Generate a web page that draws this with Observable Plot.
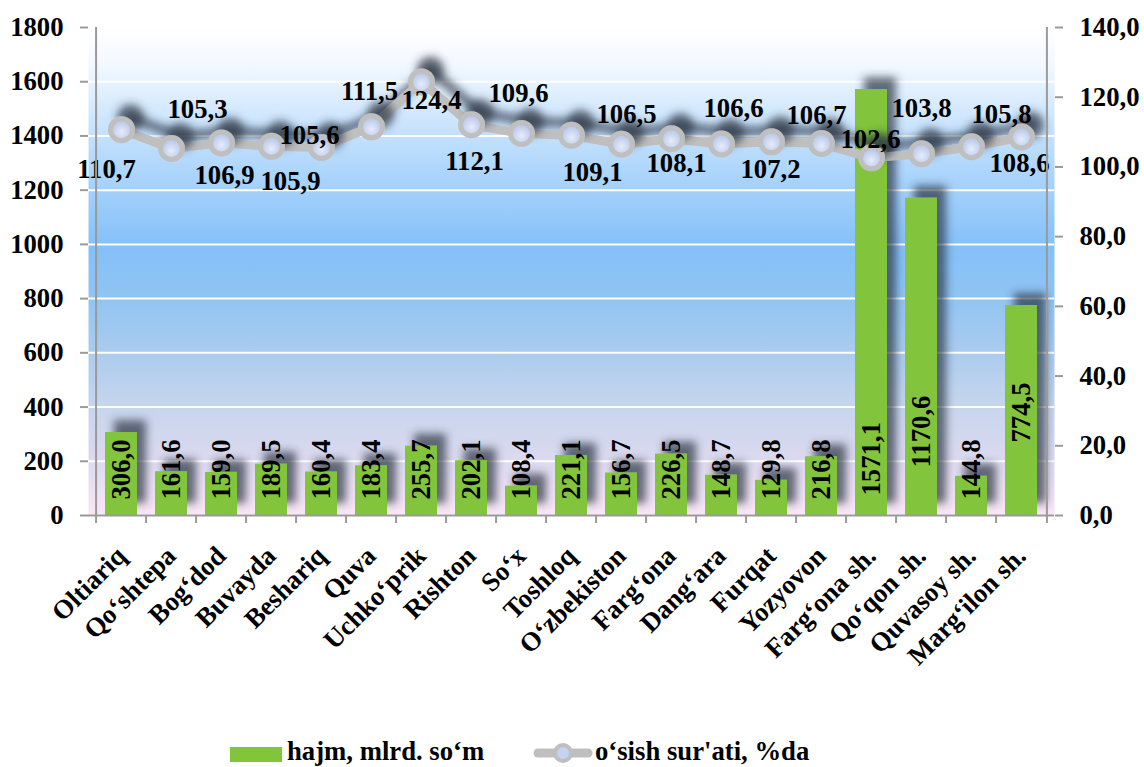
<!DOCTYPE html>
<html>
<head>
<meta charset="utf-8">
<script src="https://cdn.jsdelivr.net/npm/d3@7"></script>
<script src="https://cdn.jsdelivr.net/npm/@observablehq/plot@0.6"></script>
<style>
  html, body { margin: 0; padding: 0; background: #ffffff; }
  #wrap { position: relative; width: 1144px; height: 767px; overflow: hidden; }
  #legend { position: absolute; left: 0; top: 725px; }
</style>
</head>
<body>
<div id="wrap"><div id="chart"></div><div id="legend"></div></div>
<script>
// ---- data ----
const categories = ["Oltiariq","Qo\u2018shtepa","Bog\u2018dod","Buvayda","Beshariq","Quva","Uchko\u2018prik","Rishton","So\u2018x","Toshloq","O\u2018zbekiston","Farg\u2018ona","Dang\u2018ara","Furqat","Yozyovon","Farg\u2018ona sh.","Qo\u2018qon sh.","Quvasoy sh.","Marg\u2018ilon sh."];
const volume = [306.0,161.6,159.0,189.5,160.4,183.4,255.7,202.1,108.4,221.1,156.7,226.5,148.7,129.8,216.8,1571.1,1170.6,144.8,774.5];
const growth = [110.7,105.3,106.9,105.9,105.6,111.5,124.4,112.1,109.6,109.1,106.5,108.1,106.6,107.2,106.7,102.6,103.8,105.8,108.6];
const leftTicks = [0,200,400,600,800,1000,1200,1400,1600,1800];
const rightTicks = [0,20,40,60,80,100,120,140];
const legendLabels = ["hajm, mlrd. so\u2018m", "o\u2018sish sur'ati, %da"];

// label placement (layout config, px)
const growthLabelOffset = [[-15,40],[26,-39],[3,33],[19,35],[-12,-12],[-2,-35],[10,19],[3,37],[-3,-40],[21,37],[5,-30],[5,25],[12,-35],[-1,28],[-5,-28],[-1,-18],[0,-45],[30,-32],[-2,27]];
const volumeLabelLift = [-16,-16,-16,-16,-16,-16,-16,-16,-16,-16,-16,-16,-16,-16,-16,-20,-48,-16,-73];

// ---- layout ----
const W = 1144, H = 725;
const mL = 88, mR = 90, mT = 27, mB = 210;
const step = (W - mL - mR) / categories.length;
const leftMax = 1800, rightMax = 140, k = leftMax / rightMax;
const FONT = "'Liberation Serif', 'Times New Roman', Times, 'DejaVu Serif', serif";
const FS = 26.7;
const fmt1 = v => v.toFixed(1).replace(".", ",");
const txt = {fontFamily: FONT, fontSize: FS, fontWeight: "bold", fill: "black"};

const volRows = categories.map((c, i) => ({cat: c, v: volume[i], label: fmt1(volume[i])}));
const grRows = categories.map((c, i) => ({cat: c, g: growth[i] * k, label: fmt1(growth[i])}));

const growthLabelMarks = grRows.map((r, i) => Plot.text([r], {
  x: "cat", y: "g", text: "label",
  dx: growthLabelOffset[i][0], dy: growthLabelOffset[i][1],
  lineAnchor: "middle", ...txt
}));
const volumeLabelMarks = volRows.map((r, i) => Plot.text([r], {
  x: "cat", y: () => 0, text: "label", rotate: -90, textAnchor: "start", lineAnchor: "middle",
  dy: volumeLabelLift[i], ...txt
}));

const plot = Plot.plot({
  width: W, height: H,
  marginLeft: mL, marginRight: mR, marginTop: mT, marginBottom: mB,
  style: {fontFamily: FONT, fontWeight: "bold", fontSize: FS + "px", color: "black", background: "transparent"},
  x: {domain: categories, paddingInner: 0.37, paddingOuter: 0.185, axis: null, label: null},
  y: {domain: [0, leftMax], axis: null, label: null},
  marks: [
    Plot.frame({fill: "url(#bgGrad)", stroke: "none"}),
    Plot.gridY(leftTicks, {stroke: "white", strokeOpacity: 1, strokeWidth: 2}),
    Plot.barY(volRows, {x: "cat", y: "v", fill: "#82c43a", ariaDescription: "bars"}),
    ...volumeLabelMarks,
    Plot.line(grRows, {x: "cat", y: "g", stroke: "#bfbfbf", strokeWidth: 9, ariaDescription: "rateline"}),
    Plot.dot(grRows, {x: "cat", y: "g", r: 11, fill: "url(#dotGrad)", stroke: "#bfbfbf", strokeWidth: 5, ariaDescription: "ratedots"}),
    ...growthLabelMarks,
    // axes
    Plot.ruleY([0], {stroke: "#9a9a9a", strokeWidth: 2}),
    Plot.ruleX([categories[0]], {x: d => d, dx: -step / 2, stroke: "#9a9a9a", strokeWidth: 2}),
    Plot.ruleX([categories[categories.length - 1]], {x: d => d, dx: step / 2, stroke: "#9a9a9a", strokeWidth: 2}),
    Plot.ruleX(categories, {x: d => d, dx: -step / 2, y1: 0, y2: 0, insetTop: 0, insetBottom: -8, stroke: "#9a9a9a", strokeWidth: 2}),
    Plot.ruleX([categories[categories.length - 1]], {x: d => d, dx: step / 2, y1: 0, y2: 0, insetTop: 0, insetBottom: -8, stroke: "#9a9a9a", strokeWidth: 2}),
    Plot.axisY(leftTicks, {anchor: "left", tickSize: 8, tickPadding: 17, stroke: "#9a9a9a", strokeWidth: 2, label: null, tickFormat: d => String(d), ...txt}),
    Plot.axisY(rightTicks.map(v => v * k), {anchor: "right", tickSize: 8, tickPadding: 17, stroke: "#9a9a9a", strokeWidth: 2, label: null, tickFormat: d => fmt1(d / k), ...txt}),
    Plot.text(categories, {x: d => d, y: () => 0, text: d => d, rotate: -45, textAnchor: "end", lineAnchor: "bottom", dx: 6, dy: 42, ...txt})
  ]
});

// defs: gradients & shadow filter
const svg = d3.select(plot);
const defs = svg.insert("defs", ":first-child");
const bg = defs.append("linearGradient").attr("id", "bgGrad").attr("x1", 0).attr("y1", 0).attr("x2", 0).attr("y2", 1);
[[0,"#ffffff"],[0.07,"#f4f9ff"],[0.18,"#d0e7fd"],[0.32,"#a6d2fb"],[0.45,"#84c0f8"],[0.55,"#8fc4f3"],[0.66,"#a9cbee"],[0.77,"#c5d5ed"],[0.88,"#dad9ef"],[1,"#fae6f5"]]
  .forEach(([o, c]) => bg.append("stop").attr("offset", o).attr("stop-color", c));
const dg = defs.append("radialGradient").attr("id", "dotGrad").attr("cx", 0.5).attr("cy", 0.6).attr("r", 0.6);
dg.append("stop").attr("offset", 0).attr("stop-color", "#e6ecf9");
dg.append("stop").attr("offset", 1).attr("stop-color", "#aebfe6");
const f = defs.append("filter").attr("id", "shadow").attr("x", "-50%").attr("y", "-50%").attr("width", "200%").attr("height", "200%");
f.append("feGaussianBlur").attr("in", "SourceAlpha").attr("stdDeviation", 4).attr("result", "b");
f.append("feOffset").attr("in", "b").attr("dx", 9).attr("dy", -12).attr("result", "ob");
f.append("feFlood").attr("flood-color", "#2b3442").attr("flood-opacity", 0.7).attr("result", "fl");
f.append("feComposite").attr("in", "fl").attr("in2", "ob").attr("operator", "in").attr("result", "sh");
const m = f.append("feMerge");
m.append("feMergeNode").attr("in", "sh");
m.append("feMergeNode").attr("in", "SourceGraphic");
svg.selectAll('g[aria-description="bars"], g[aria-description="rateline"], g[aria-description="ratedots"]').attr("filter", "url(#shadow)");

document.getElementById("chart").appendChild(plot);

// ---- legend ----
const lg = d3.select("#legend").append("svg").attr("width", W).attr("height", 42);
const lt = {"font-family": FONT, "font-weight": "bold", "font-size": FS};
lg.append("rect").attr("x", 230).attr("y", 22).attr("width", 52).attr("height", 15).attr("fill", "#82c43a");
const t1 = lg.append("text").attr("x", 287).attr("y", 35).text(legendLabels[0]);
lg.append("line").attr("x1", 538).attr("x2", 588).attr("y1", 28).attr("y2", 28).attr("stroke", "#bfbfbf").attr("stroke-width", 9).attr("stroke-linecap", "round");
lg.append("circle").attr("cx", 563).attr("cy", 28).attr("r", 8).attr("fill", "#c5d3f1").attr("stroke", "#bfbfbf").attr("stroke-width", 4);
const t2 = lg.append("text").attr("x", 595).attr("y", 35).text(legendLabels[1]);
[t1, t2].forEach(t => Object.entries(lt).forEach(([a, v]) => t.attr(a, v)));
</script>
</body>
</html>
